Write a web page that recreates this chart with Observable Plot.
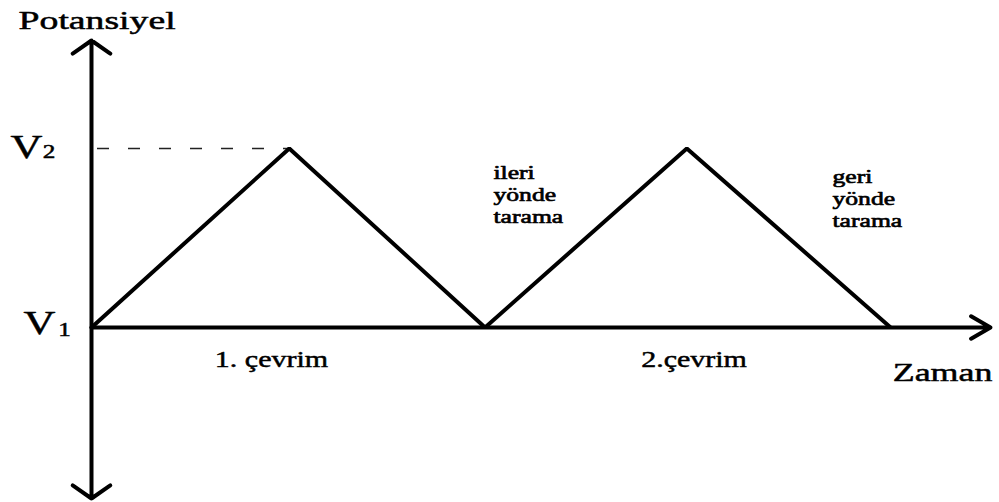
<!DOCTYPE html>
<html>
<head>
<meta charset="utf-8">
<script src="https://cdn.jsdelivr.net/npm/d3@7"></script>
<script src="https://cdn.jsdelivr.net/npm/@observablehq/plot@0.6"></script>
<style>
  html, body { margin: 0; padding: 0; background: #fff; }
  #chart svg { display: block; }
</style>
</head>
<body>
<div id="chart"></div>
<script>
// Triangular potential sweep (cyclic voltammetry): two cycles between V1 and V2.
const sweepTimes = [0, 0.99, 1.97, 2.98, 4];
const sweepPotentials = [0, 1, 0, 1, 0];   // V1 = 0, V2 = 1

// Axis extents (time to the right, potential up and down)
const timeEnd = 4.5;
const potentialMin = -0.955;
const potentialMax = 1.603;

// Potential level labels V1, V2
const levelValues = [0, 1];
const levelSubscripts = ["1", "2"];
const levelLetterTimes = [-0.26, -0.325];
const levelLetterPotentials = [-0.034, 0.949];
const levelSubTimes = [-0.135, -0.213];
const levelSubPotentials = [-0.045, 0.949];

// Cycle labels under the time axis
const cycleLabels = ["1. çevrim", "2.çevrim"];
const cycleLabelTimes = [0.901, 3.016];
const cycleLabelPotential = -0.223;

// Scan direction notes
const scanLabels = ["ileri\nyönde\ntarama", "geri\nyönde\ntarama"];
const scanLabelTimes = [2.012, 3.709];
const scanLabelPotentials = [0.581, 0.559];

// Axis titles
const yTitle = "Potansiyel";
const yTitleAt = {t: 0.028, v: 1.67};
const xTitle = "Zaman";
const xTitleAt = {t: 4.26, v: -0.296};

const sweep = sweepTimes.map((t, i) => ({t, v: sweepPotentials[i]}));
const peakLevel = d3.max(sweepPotentials);
const peakTime = sweepTimes[sweepPotentials.indexOf(peakLevel)];

const axisArrows = [
  {x1: 0, y1: 0, x2: 0, y2: potentialMax},
  {x1: 0, y1: 0, x2: 0, y2: potentialMin}
];

const serif = "Liberation Serif, Times New Roman, serif";
// shared text styling: black serif glyphs with a hairline outline for weight
const ink = {
  fontFamily: serif, fill: "#000", stroke: "#000", strokeWidth: 0.5, lineAnchor: "bottom"
};

const chart = Plot.plot({
  width: 999,
  height: 502,
  marginLeft: 91,
  marginRight: 9,
  marginTop: 40,
  marginBottom: 4,
  x: {domain: [0, timeEnd], axis: null},
  y: {domain: [potentialMin, potentialMax], axis: null},
  style: {fontFamily: serif, background: "#fff", color: "#000", overflow: "visible"},
  marks: [
    // dashed guide at V2 up to the first peak
    Plot.ruleY([peakLevel], {
      x1: 0, x2: peakTime, stroke: "#222", strokeWidth: 1.6,
      strokeDasharray: "12,19", strokeDashoffset: -6
    }),
    // vertical potential axis (double headed)
    Plot.arrow(axisArrows, {
      x1: "x1", y1: "y1", x2: "x2", y2: "y2",
      stroke: "#000", strokeWidth: 4, headLength: 8.6, headAngle: 110
    }),
    // time axis
    Plot.arrow([{x1: 0, y1: 0, x2: timeEnd, y2: 0}], {
      x1: "x1", y1: "y1", x2: "x2", y2: "y2",
      stroke: "#000", strokeWidth: 4, headLength: 8.4, headAngle: 60
    }),
    // the triangular sweep
    Plot.line(sweep, {
      x: "t", y: "v", stroke: "#000", strokeWidth: 4,
      strokeLinejoin: "miter", strokeLinecap: "butt"
    }),
    // axis titles
    Plot.text([yTitle], {
      ...ink, x: () => yTitleAt.t, y: () => yTitleAt.v, text: (d) => d,
      fontSize: 26, textAnchor: "middle", className: "stretch-145"
    }),
    Plot.text([xTitle], {
      ...ink, x: () => xTitleAt.t, y: () => xTitleAt.v, text: (d) => d,
      fontSize: 26, textAnchor: "middle", className: "stretch-138"
    }),
    // level labels V1, V2
    Plot.text(levelValues, {
      ...ink, x: (d, i) => levelLetterTimes[i], y: (d, i) => levelLetterPotentials[i],
      text: () => "V", fontSize: 34, textAnchor: "middle", className: "stretch-130"
    }),
    Plot.text(levelValues, {
      ...ink, x: (d, i) => levelSubTimes[i], y: (d, i) => levelSubPotentials[i],
      text: (d, i) => levelSubscripts[i], fontSize: 18,
      textAnchor: "middle", className: "stretch-140"
    }),
    // cycle labels
    Plot.text(cycleLabels, {
      ...ink, x: (d, i) => cycleLabelTimes[i], y: () => cycleLabelPotential,
      text: (d) => d, fontSize: 24, textAnchor: "middle", className: "stretch-125"
    }),
    // scan direction notes
    Plot.text(scanLabels, {
      ...ink, x: (d, i) => scanLabelTimes[i], y: (d, i) => scanLabelPotentials[i],
      text: (d) => d, fontSize: 19, lineHeight: 1.18, strokeWidth: 0.65,
      textAnchor: "start", className: "stretch-135"
    })
  ]
});

// Widen the serif glyphs horizontally around each label's anchor point.
chart.querySelectorAll("[class*='stretch-']").forEach((g) => {
  const m = (g.getAttribute("class") || "").match(/stretch-(\d+)/);
  if (!m) return;
  const s = +m[1] / 100;
  g.querySelectorAll("text").forEach((t) => {
    const tr = t.getAttribute("transform") || "";
    t.setAttribute("transform", `${tr} scale(${s},1)`);
  });
});

document.getElementById("chart").appendChild(chart);
</script>
</body>
</html>
